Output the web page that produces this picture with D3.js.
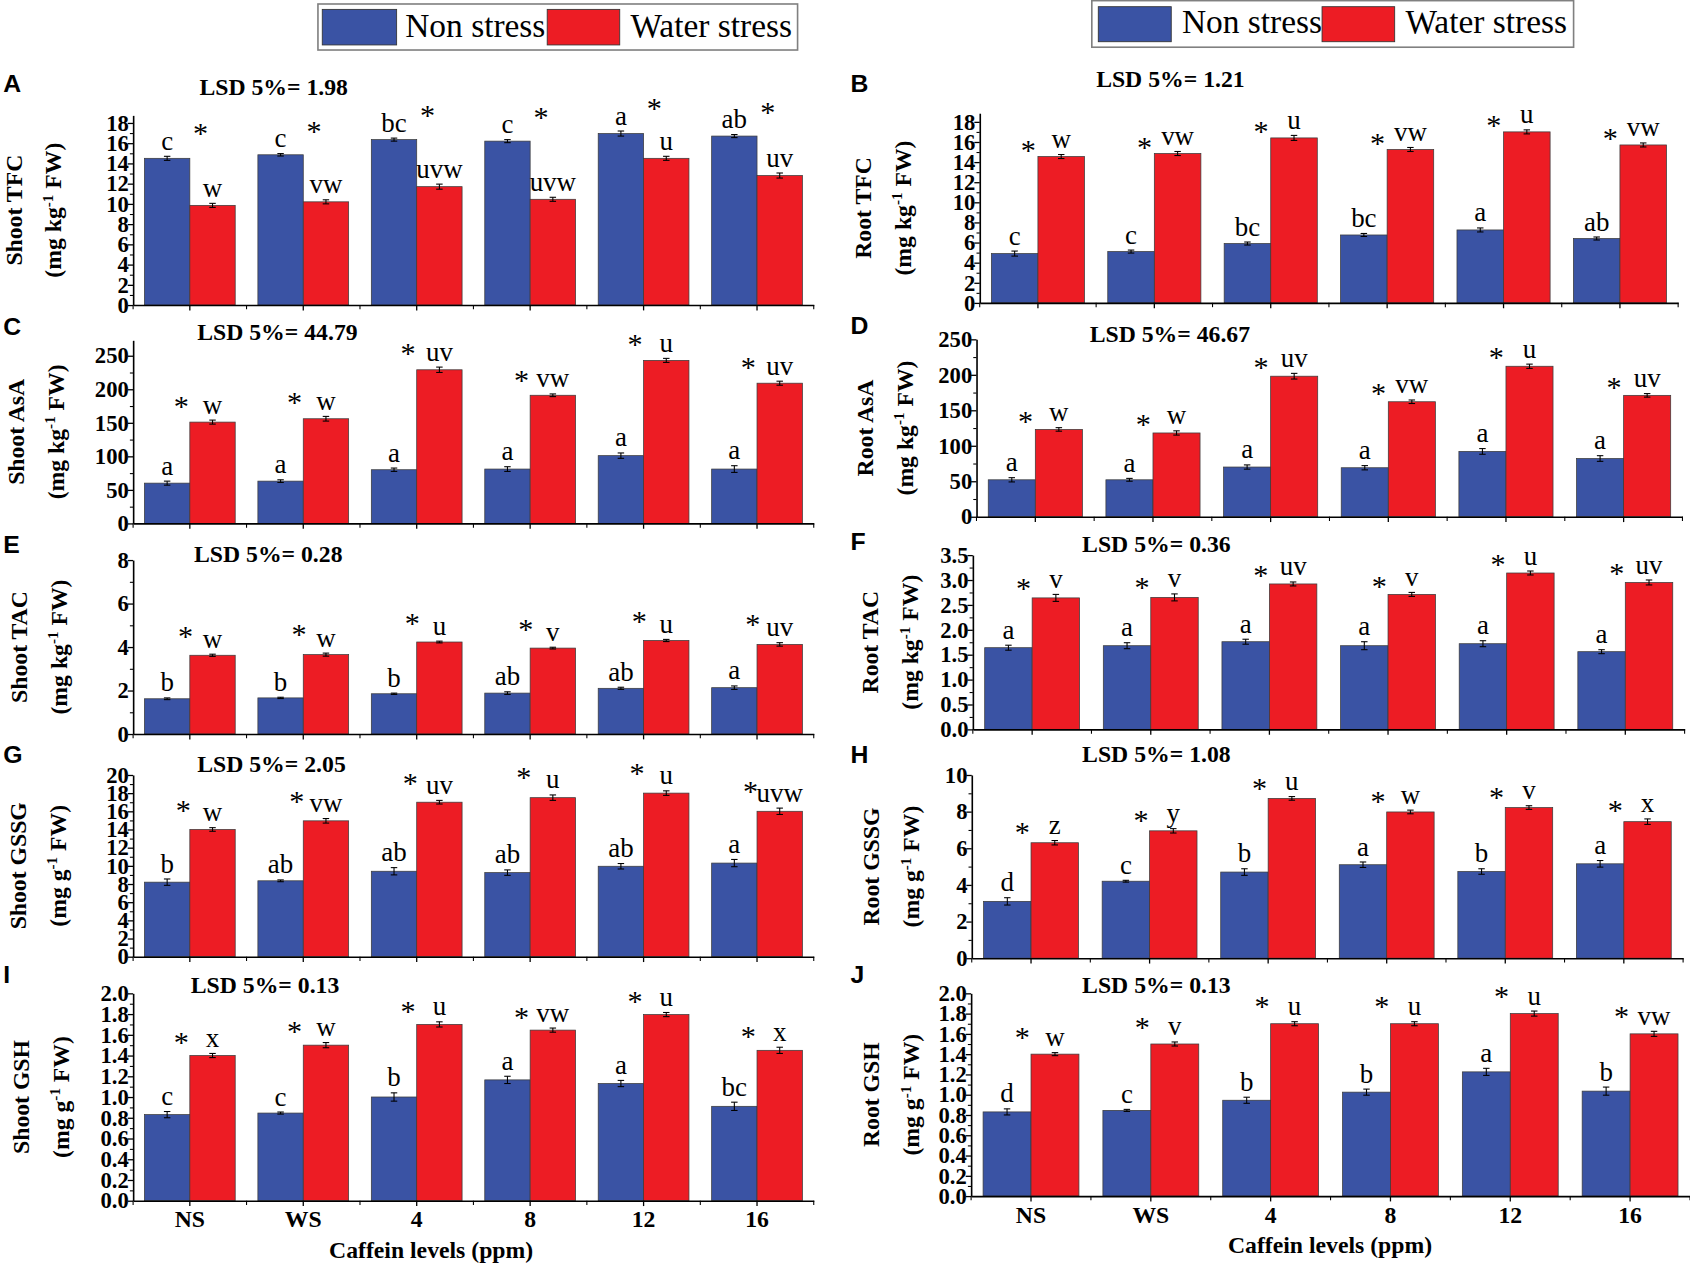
<!DOCTYPE html>
<html>
<head>
<meta charset="utf-8">
<script src="https://cdn.jsdelivr.net/npm/d3@7"></script>
<style>
html, body { margin: 0; padding: 0; background: #fff; }
svg { display: block; }
</style>
</head>
<body>
<div class="container"></div>
<script>
const categories = ["NS", "WS", "4", "8", "12", "16"];
const seriesNames = ["Non stress", "Water stress"];
const panelIds = ["A", "B", "C", "D", "E", "F", "G", "H", "I", "J"];
const lsdValues = ["1.98", "1.21", "44.79", "46.67", "0.28", "0.36", "2.05", "1.08", "0.13", "0.13"];
const yTitles = ["Shoot TFC", "Root TFC", "Shoot AsA", "Root AsA", "Shoot TAC", "Root TAC",
                 "Shoot GSSG", "Root GSSG", "Shoot GSH", "Root GSH"];
const yUnits = ["kg", "kg", "kg", "kg", "kg", "kg", "g", "g", "g", "g"];
const xTitle = "Caffein levels (ppm)";

// tick labels
const tfcTicks = [0, 2, 4, 6, 8, 10, 12, 14, 16, 18];
const asaTicks = [0, 50, 100, 150, 200, 250];
const shootTacTicks = [0, 2, 4, 6, 8];
const rootTacTicks = [0, 0.5, 1.0, 1.5, 2.0, 2.5, 3.0, 3.5];
const shootGssgTicks = [0, 2, 4, 6, 8, 10, 12, 14, 16, 18, 20];
const rootGssgTicks = [0, 2, 4, 6, 8, 10];
const gshTicks = [0, 0.2, 0.4, 0.6, 0.8, 1.0, 1.2, 1.4, 1.6, 1.8, 2.0];

// A  Shoot TFC
const shootTfcNon = [14.5, 14.85, 16.35, 16.2, 16.95, 16.7];
const shootTfcNonErr = [0.2, 0.12, 0.15, 0.15, 0.25, 0.15];
const shootTfcWater = [9.85, 10.2, 11.7, 10.45, 14.5, 12.8];
const shootTfcWaterErr = [0.2, 0.2, 0.25, 0.2, 0.2, 0.25];
const shootTfcNonLet = ["c", "c", "bc", "c", "a", "ab"];
const shootTfcWaterLet = ["w", "vw", "uvw", "uvw", "u", "uv"];

// B  Root TFC
const rootTfcNon = [4.9, 5.1, 5.9, 6.75, 7.25, 6.4];
const rootTfcNonErr = [0.25, 0.15, 0.15, 0.15, 0.2, 0.15];
const rootTfcWater = [14.55, 14.85, 16.4, 15.25, 17.0, 15.7];
const rootTfcWaterErr = [0.2, 0.2, 0.25, 0.2, 0.2, 0.2];
const rootTfcNonLet = ["c", "c", "bc", "bc", "a", "ab"];
const rootTfcWaterLet = ["w", "vw", "u", "vw", "u", "vw"];

// C  Shoot AsA
const shootAsaNon = [60, 63, 80, 81, 101, 81];
const shootAsaNonErr = [3, 2, 2.5, 3.5, 4, 5];
const shootAsaWater = [151, 156, 229, 191, 243, 209];
const shootAsaWaterErr = [3, 3.5, 4, 2, 3, 3];
const shootAsaNonLet = ["a", "a", "a", "a", "a", "a"];
const shootAsaWaterLet = ["w", "w", "uv", "vw", "u", "uv"];

// D  Root AsA
const rootAsaNon = [52, 52, 70, 69, 92, 82];
const rootAsaNonErr = [3, 2, 3, 3, 4, 4];
const rootAsaWater = [123, 118, 198, 162, 212, 171];
const rootAsaWaterErr = [2.5, 3, 4, 2.5, 3, 2.5];
const rootAsaNonLet = ["a", "a", "a", "a", "a", "a"];
const rootAsaWaterLet = ["w", "w", "uv", "vw", "u", "uv"];

// E  Shoot TAC
const shootTacNon = [1.62, 1.66, 1.85, 1.88, 2.1, 2.13];
const shootTacNonErr = [0.04, 0.03, 0.03, 0.06, 0.05, 0.08];
const shootTacWater = [3.62, 3.65, 4.23, 3.95, 4.3, 4.12];
const shootTacWaterErr = [0.05, 0.07, 0.04, 0.04, 0.05, 0.08];
const shootTacNonLet = ["b", "b", "b", "ab", "ab", "a"];
const shootTacWaterLet = ["w", "w", "u", "v", "u", "uv"];

// F  Root TAC
const rootTacNon = [1.64, 1.68, 1.76, 1.68, 1.72, 1.56];
const rootTacNonErr = [0.05, 0.06, 0.05, 0.08, 0.06, 0.04];
const rootTacWater = [2.64, 2.65, 2.92, 2.71, 3.14, 2.95];
const rootTacWaterErr = [0.07, 0.07, 0.04, 0.04, 0.04, 0.05];
const rootTacNonLet = ["a", "a", "a", "a", "a", "a"];
const rootTacWaterLet = ["v", "v", "uv", "v", "u", "uv"];

// G  Shoot GSSG
const shootGssgNon = [8.2, 8.35, 9.4, 9.25, 9.95, 10.3];
const shootGssgNonErr = [0.35, 0.1, 0.4, 0.3, 0.3, 0.4];
const shootGssgWater = [14.0, 14.95, 17.0, 17.5, 18.0, 16.0];
const shootGssgWaterErr = [0.2, 0.25, 0.2, 0.3, 0.25, 0.35];
const shootGssgNonLet = ["b", "ab", "ab", "ab", "ab", "a"];
const shootGssgWaterLet = ["w", "vw", "uv", "u", "u", "uvw"];

// H  Root GSSG
const rootGssgNon = [3.1, 4.2, 4.7, 5.1, 4.73, 5.15];
const rootGssgNonErr = [0.2, 0.05, 0.18, 0.15, 0.15, 0.18];
const rootGssgWater = [6.3, 6.95, 8.72, 7.98, 8.22, 7.45];
const rootGssgWaterErr = [0.12, 0.12, 0.1, 0.1, 0.1, 0.15];
const rootGssgNonLet = ["d", "c", "b", "a", "b", "a"];
const rootGssgWaterLet = ["z", "y", "u", "w", "v", "x"];

// I  Shoot GSH
const shootGshNon = [0.83, 0.845, 1.0, 1.165, 1.13, 0.91];
const shootGshNonErr = [0.03, 0.01, 0.04, 0.035, 0.03, 0.04];
const shootGshWater = [1.4, 1.5, 1.7, 1.645, 1.795, 1.45];
const shootGshWaterErr = [0.02, 0.025, 0.025, 0.02, 0.02, 0.03];
const shootGshNonLet = ["c", "c", "b", "a", "a", "bc"];
const shootGshWaterLet = ["x", "w", "u", "vw", "u", "x"];

// J  Root GSH
const rootGshNon = [0.83, 0.845, 0.945, 1.025, 1.225, 1.035];
const rootGshNonErr = [0.03, 0.01, 0.03, 0.03, 0.035, 0.04];
const rootGshWater = [1.4, 1.5, 1.7, 1.7, 1.8, 1.6];
const rootGshWaterErr = [0.015, 0.02, 0.02, 0.02, 0.025, 0.025];
const rootGshNonLet = ["d", "c", "b", "b", "a", "b"];
const rootGshWaterLet = ["w", "v", "u", "u", "u", "vw"];

const panelData = [
    {non: shootTfcNon, nonErr: shootTfcNonErr, water: shootTfcWater, waterErr: shootTfcWaterErr, nonLet: shootTfcNonLet, waterLet: shootTfcWaterLet, ticks: tfcTicks, minor: 1, fmt: "d"},
    {non: rootTfcNon, nonErr: rootTfcNonErr, water: rootTfcWater, waterErr: rootTfcWaterErr, nonLet: rootTfcNonLet, waterLet: rootTfcWaterLet, ticks: tfcTicks, minor: 1, fmt: "d"},
    {non: shootAsaNon, nonErr: shootAsaNonErr, water: shootAsaWater, waterErr: shootAsaWaterErr, nonLet: shootAsaNonLet, waterLet: shootAsaWaterLet, ticks: asaTicks, minor: 25, fmt: "d"},
    {non: rootAsaNon, nonErr: rootAsaNonErr, water: rootAsaWater, waterErr: rootAsaWaterErr, nonLet: rootAsaNonLet, waterLet: rootAsaWaterLet, ticks: asaTicks, minor: 25, fmt: "d"},
    {non: shootTacNon, nonErr: shootTacNonErr, water: shootTacWater, waterErr: shootTacWaterErr, nonLet: shootTacNonLet, waterLet: shootTacWaterLet, ticks: shootTacTicks, minor: 1, fmt: "d"},
    {non: rootTacNon, nonErr: rootTacNonErr, water: rootTacWater, waterErr: rootTacWaterErr, nonLet: rootTacNonLet, waterLet: rootTacWaterLet, ticks: rootTacTicks, minor: 0.25, fmt: ".1f"},
    {non: shootGssgNon, nonErr: shootGssgNonErr, water: shootGssgWater, waterErr: shootGssgWaterErr, nonLet: shootGssgNonLet, waterLet: shootGssgWaterLet, ticks: shootGssgTicks, minor: 1, fmt: "d"},
    {non: rootGssgNon, nonErr: rootGssgNonErr, water: rootGssgWater, waterErr: rootGssgWaterErr, nonLet: rootGssgNonLet, waterLet: rootGssgWaterLet, ticks: rootGssgTicks, minor: 1, fmt: "d"},
    {non: shootGshNon, nonErr: shootGshNonErr, water: shootGshWater, waterErr: shootGshWaterErr, nonLet: shootGshNonLet, waterLet: shootGshWaterLet, ticks: gshTicks, minor: 0.1, fmt: ".1f"},
    {non: rootGshNon, nonErr: rootGshNonErr, water: rootGshWater, waterErr: rootGshWaterErr, nonLet: rootGshNonLet, waterLet: rootGshWaterLet, ticks: gshTicks, minor: 0.1, fmt: ".1f"}
];

// layout of each panel (drawing units of the viewBox)
const layout = [
    {x: [123.5, 755], y0: 283, y1: 107, max: 18.75, id: [3, 85], lsd: [185, 88], tx: 20, star: [10, -6]},
    {x: [909, 1557], y0: 281, y1: 105, max: 18.86, id: [789, 85], lsd: [1017, 80.5], tx: 808, star: [-9, 11]},
    {x: [123.5, 755], y0: 485.6, y1: 315.7, max: 273, id: [3, 311], lsd: [183, 315.5], tx: 22, star: [-8, 2]},
    {x: [906, 1561], y0: 479.4, y1: 314.8, max: 250, id: [789, 310], lsd: [1011, 317], tx: 810, star: [-9, 9]},
    {x: [123.5, 755], y0: 681, y1: 519.6, max: 8, id: [3, 513], lsd: [180, 521.5], tx: 25, star: [-4, -2]},
    {x: [902.6, 1563], y0: 676.7, y1: 515, max: 3.5, id: [789, 510], lsd: [1004, 512], tx: 815, star: [-8, 9]},
    {x: [123.5, 755], y0: 887.6, y1: 719, max: 20, id: [3, 708], lsd: [183, 716], tx: 24, star: [-6, -1]},
    {x: [901.6, 1561.6], y0: 889, y1: 719, max: 10, id: [789, 708], lsd: [1004, 707], tx: 816, star: [-8, 7]},
    {x: [123.5, 755], y0: 1114, y1: 921.6, max: 2, id: [3, 912], lsd: [177, 921.5], tx: 27, star: [-8, 5], bottom: true, title: [400, 1167.5]},
    {x: [901, 1568], y0: 1109.7, y1: 921.6, max: 2, id: [789, 912], lsd: [1004, 921], tx: 816, star: [-8, 1], bottom: true, title: [1234, 1162.8]}
];

const W = 1568, H = 1174.6;
const blue = "#3a53a4";
const red = "#ed1c24";
const serif = "'Liberation Serif', 'Times New Roman', serif";
const sans = "'Liberation Sans', Arial, sans-serif";

const svg = d3.select(".container")
    .append("svg")
    .attr("width", 1690)
    .attr("height", 1266)
    .attr("viewBox", `0 0 ${W} ${H}`)
    .style("background", "white");

const drawLegend = (box, sw1, sw2, tx, ty) => {
    const g = svg.append("g");
    g.append("rect").attr("x", box[0]).attr("y", box[1]).attr("width", box[2]).attr("height", box[3])
        .attr("fill", "white").attr("stroke", "#808080").attr("stroke-width", 1.5);
    [sw1, sw2].forEach((s, i) => {
        g.append("rect").attr("x", s[0]).attr("y", s[1]).attr("width", s[2]).attr("height", s[3])
            .attr("fill", i === 0 ? blue : red).attr("stroke", "#333").attr("stroke-width", 0.8);
        g.append("text").attr("x", tx[i]).attr("y", ty)
            .style("font", `31px ${serif}`).attr("fill", "#000")
            .text(seriesNames[i]);
    });
};
drawLegend([295, 3.7, 445, 42.7], [299, 8.7, 69, 33], [507.7, 8.7, 67.3, 33], [376, 585], 34.6);
drawLegend([1013, 0.6, 447, 43.2], [1019, 6.2, 67.7, 32.5], [1226.6, 6.2, 67.4, 32.5], [1096.6, 1304], 31);

const drawPanel = (k) => {
    const p = panelData[k];
    const L = layout[k];
    const x = d3.scaleBand().domain(categories).range(L.x).paddingInner(0.2).paddingOuter(0.1);
    const xs = d3.scaleBand().domain(seriesNames).range([0, x.bandwidth()]);
    const y = d3.scaleLinear().domain([0, L.max]).range([L.y0, L.y1]);
    const g = svg.append("g");

    const rows = [];
    categories.forEach((c, i) => {
        rows.push({c: c, s: seriesNames[0], v: p.non[i], e: p.nonErr[i], l: p.nonLet[i], col: blue});
        rows.push({c: c, s: seriesNames[1], v: p.water[i], e: p.waterErr[i], l: p.waterLet[i], col: red});
    });
    const cx = d => x(d.c) + xs(d.s) + xs.bandwidth() / 2;

    g.selectAll("rect.bar")
        .data(rows)
        .join("rect")
        .attr("class", "bar")
        .attr("x", d => x(d.c) + xs(d.s))
        .attr("width", xs.bandwidth())
        .attr("y", d => y(d.v))
        .attr("height", d => y(0) - y(d.v))
        .attr("fill", d => d.col)
        .attr("stroke", "#3c3c3c")
        .attr("stroke-width", 0.7);

    const eb = g.selectAll("g.err")
        .data(rows)
        .join("g")
        .attr("class", "err")
        .attr("stroke", "#000")
        .attr("stroke-width", 1);
    eb.append("line").attr("x1", cx).attr("x2", cx)
        .attr("y1", d => y(d.v - d.e)).attr("y2", d => y(d.v + d.e));
    eb.append("line").attr("x1", d => cx(d) - 3).attr("x2", d => cx(d) + 3)
        .attr("y1", d => y(d.v + d.e)).attr("y2", d => y(d.v + d.e));
    eb.append("line").attr("x1", d => cx(d) - 3).attr("x2", d => cx(d) + 3)
        .attr("y1", d => y(d.v - d.e)).attr("y2", d => y(d.v - d.e));

    g.selectAll("text.let")
        .data(rows)
        .join("text")
        .attr("class", "let")
        .attr("x", cx)
        .attr("y", d => y(d.v + d.e) - 6)
        .attr("text-anchor", "middle")
        .style("font", `25px ${serif}`)
        .attr("fill", "#000")
        .text(d => d.l);

    g.selectAll("text.star")
        .data(categories)
        .join("text")
        .attr("class", "star")
        .attr("x", c => x(c) + x.bandwidth() / 2 + L.star[0])
        .attr("y", (c, i) => Math.min(y(p.non[i] + p.nonErr[i]), y(p.water[i] + p.waterErr[i])) - 6 + L.star[1])
        .attr("text-anchor", "middle")
        .style("font", `28px ${serif}`)
        .attr("fill", "#000")
        .text("*");

    // y axis with minor ticks
    const yAxis = d3.axisLeft(y)
        .tickValues(p.ticks)
        .tickFormat(d3.format(p.fmt))
        .tickSize(5)
        .tickSizeOuter(0)
        .tickPadding(-1);
    const ya = g.append("g")
        .attr("transform", `translate(${L.x[0]},0)`)
        .call(yAxis);
    ya.select(".domain").attr("stroke-width", 1.5);
    ya.selectAll(".tick line").attr("stroke-width", 1.2);
    ya.selectAll("text").style("font", `bold 21px ${serif}`).attr("fill", "#000");

    const minorVals = d3.range(0, L.max + 1e-9, p.minor)
        .filter(v => !p.ticks.some(t => Math.abs(t - v) < 1e-9));
    const ym = g.append("g")
        .attr("transform", `translate(${L.x[0]},0)`)
        .call(d3.axisLeft(y).tickValues(minorVals).tickSize(3).tickFormat(""));
    ym.select(".domain").remove();

    // x axis
    const xAxis = d3.axisBottom(x)
        .tickSize(5)
        .tickSizeOuter(0)
        .tickPadding(4)
        .tickFormat(L.bottom ? (d => d) : "");
    const xa = g.append("g")
        .attr("transform", `translate(0,${L.y0})`)
        .call(xAxis);
    xa.select(".domain").attr("stroke-width", 1.5);
    xa.selectAll(".tick line").attr("stroke-width", 1.2);
    xa.selectAll("text").style("font", `bold 22px ${serif}`).attr("fill", "#000");

    g.selectAll("line.bnd")
        .data(d3.range(categories.length + 1))
        .join("line")
        .attr("class", "bnd")
        .attr("x1", i => L.x[0] + i * x.step())
        .attr("x2", i => L.x[0] + i * x.step())
        .attr("y1", L.y0)
        .attr("y2", L.y0 + 4)
        .attr("stroke", "#000")
        .attr("stroke-width", 1);

    if (L.bottom) {
        g.append("text")
            .attr("x", L.title[0]).attr("y", L.title[1])
            .attr("text-anchor", "middle")
            .style("font", `bold 22px ${serif}`)
            .text(xTitle);
    }

    // panel letter and LSD
    g.append("text")
        .attr("x", L.id[0]).attr("y", L.id[1])
        .style("font", `bold 23px ${sans}`)
        .text(panelIds[k]);
    g.append("text")
        .attr("x", L.lsd[0]).attr("y", L.lsd[1])
        .style("font", `bold 22px ${serif}`)
        .text("LSD 5%= " + lsdValues[k]);

    // y title, two lines
    const cy = (L.y0 + L.y1) / 2;
    g.append("text")
        .attr("transform", `translate(${L.tx},${cy}) rotate(-90)`)
        .attr("text-anchor", "middle")
        .style("font", `bold 22px ${serif}`)
        .text(yTitles[k]);
    const t2 = g.append("text")
        .attr("transform", `translate(${L.tx + 37},${cy}) rotate(-90)`)
        .attr("text-anchor", "middle")
        .style("font", `bold 22px ${serif}`);
    t2.append("tspan").text(`(mg ${yUnits[k]}`);
    t2.append("tspan").attr("dy", -8).style("font-size", "14px").text("-1");
    t2.append("tspan").attr("dy", 8).text(" FW)");
};

panelIds.forEach((id, k) => drawPanel(k));
</script>
</body>
</html>
